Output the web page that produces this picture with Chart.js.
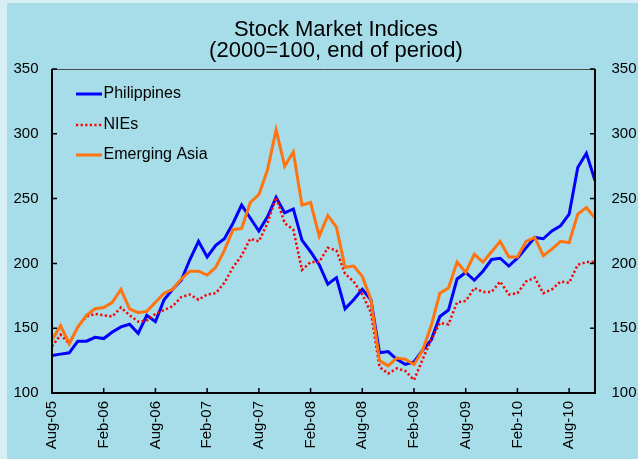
<!DOCTYPE html>
<html>
<head>
<meta charset="utf-8">
<script src="https://cdn.jsdelivr.net/npm/chart.js@4.4.1/dist/chart.umd.min.js"></script>
<style>
  html, body { margin: 0; padding: 0; background: #D6EEF4; }
  canvas { display: block; }
</style>
</head>
<body>
<canvas id="c" width="638" height="459"></canvas>
<script>
const titleLines = ['Stock Market Indices', '(2000=100, end of period)'];

const categories = [
  'Aug-05','Sep-05','Oct-05','Nov-05','Dec-05',
  'Jan-06','Feb-06','Mar-06','Apr-06','May-06','Jun-06','Jul-06','Aug-06','Sep-06','Oct-06','Nov-06','Dec-06',
  'Jan-07','Feb-07','Mar-07','Apr-07','May-07','Jun-07','Jul-07','Aug-07','Sep-07','Oct-07','Nov-07','Dec-07',
  'Jan-08','Feb-08','Mar-08','Apr-08','May-08','Jun-08','Jul-08','Aug-08','Sep-08','Oct-08','Nov-08','Dec-08',
  'Jan-09','Feb-09','Mar-09','Apr-09','May-09','Jun-09','Jul-09','Aug-09','Sep-09','Oct-09','Nov-09','Dec-09',
  'Jan-10','Feb-10','Mar-10','Apr-10','May-10','Jun-10','Jul-10','Aug-10','Sep-10','Oct-10','Nov-10'
];

const philippines = [
  129,130,131,140,140,
  143,142,147,151,153,146,160,155,172,180,187,203,
  217,205,214,219,231,245,235,225,236,251,239,242,
  218,209,199,184,189,165,172,180,172,131,132,126,
  122,124,133,141,159,164,188,193,187,194,203,204,
  198,204,212,220,219,225,229,238,274,285,264
];

const nies = [
  136,145,138,151,159,
  161,160,159,166,160,155,156,161,164,167,174,176,
  172,176,177,185,197,206,219,217,231,251,231,226,
  195,201,201,212,210,192,186,176,162,120,115,119,
  117,110,126,141,154,153,170,171,181,178,178,186,
  176,177,186,189,177,180,186,185,199,201,201
];

const emergingAsia = [
  141,152,138,151,160,
  165,166,170,180,165,162,163,170,177,180,188,194,
  194,191,197,210,226,227,247,253,272,303,275,286,
  245,247,221,237,228,197,198,190,172,125,121,127,
  126,122,133,152,177,181,201,193,207,201,209,217,
  205,205,217,220,206,211,217,216,238,243,235
];

const yTicks = [100, 150, 200, 250, 300, 350];
const seriesNames = ['Philippines', 'NIEs', 'Emerging Asia'];

const FONT = "'Liberation Sans', Arial, sans-serif";
const BG = '#A7DDE8';
const EDGE = '#D6EEF4';

const bgPlugin = {
  id: 'bg',
  beforeDraw(chart) {
    const c = chart.ctx;
    c.save();
    c.fillStyle = EDGE;
    c.fillRect(0, 0, chart.width, chart.height);
    c.fillStyle = BG;
    c.fillRect(7, 3, chart.width - 7, chart.height - 3);
    c.restore();
  }
};

const titlePlugin = {
  id: 'customTitle',
  afterDraw(chart) {
    const c = chart.ctx;
    c.save();
    c.fillStyle = '#000';
    c.font = '22px ' + FONT;
    c.textAlign = 'center';
    c.textBaseline = 'alphabetic';
    c.fillText(titleLines[0], 336, 36);
    c.fillText(titleLines[1], 336, 57);
    c.restore();
  }
};

const framePlugin = {
  id: 'frame',
  afterDraw(chart) {
    const c = chart.ctx;
    const a = chart.chartArea;
    const xs = chart.scales.x, ys = chart.scales.y, ys2 = chart.scales.y2;
    c.save();
    c.strokeStyle = '#4a4a4a';
    c.lineWidth = 1;
    c.beginPath();
    c.moveTo(a.left, a.top + 0.5);
    c.lineTo(a.right, a.top + 0.5);
    c.stroke();
    c.strokeStyle = '#000';
    c.lineWidth = 2;
    c.beginPath();
    c.moveTo(a.left, a.top);
    c.lineTo(a.left, a.bottom);
    c.lineTo(a.right, a.bottom);
    c.lineTo(a.right, a.top);
    c.stroke();
    c.lineWidth = 1.5;
    c.beginPath();
    xs.ticks.forEach((t, i) => {
      const px = xs.getPixelForTick(i);
      c.moveTo(px, a.bottom);
      c.lineTo(px, a.bottom - 5);
    });
    ys.ticks.forEach((t, i) => {
      const py = ys.getPixelForTick(i);
      c.moveTo(a.left, py);
      c.lineTo(a.left + 5, py);
    });
    ys2.ticks.forEach((t, i) => {
      const py = ys2.getPixelForTick(i);
      c.moveTo(a.right, py);
      c.lineTo(a.right - 5, py);
    });
    c.stroke();

    const rows = [94, 125, 155];
    chart.data.datasets.forEach((ds, i) => {
      const y = rows[i];
      c.save();
      c.strokeStyle = ds.borderColor;
      c.lineWidth = ds.borderWidth;
      c.setLineDash(ds.borderDash || []);
      c.beginPath();
      c.moveTo(76, y);
      c.lineTo(102, y);
      c.stroke();
      c.restore();
      c.fillStyle = '#000';
      c.font = '16px ' + FONT;
      c.textAlign = 'left';
      c.textBaseline = 'middle';
      c.fillText(ds.label, 103.5, y);
    });
    c.restore();
  }
};

const tickFont = { family: FONT, size: 15, weight: 'normal' };

new Chart(document.getElementById('c'), {
  type: 'line',
  data: {
    labels: categories,
    datasets: [
      { label: seriesNames[0], data: philippines, borderColor: '#0000FF', borderWidth: 3, pointRadius: 0, tension: 0, fill: false, order: 3, yAxisID: 'y' },
      { label: seriesNames[1], data: nies, borderColor: '#FF0000', borderWidth: 2.5, borderDash: [2.2, 2.4], borderCapStyle: 'butt', pointRadius: 0, tension: 0, fill: false, order: 2, yAxisID: 'y' },
      { label: seriesNames[2], data: emergingAsia, borderColor: '#FF7410', borderWidth: 3, pointRadius: 0, tension: 0, fill: false, order: 1, yAxisID: 'y' }
    ]
  },
  options: {
    responsive: false,
    animation: false,
    devicePixelRatio: 1,
    events: [],
    layout: { padding: { left: 0, right: 0, top: 69, bottom: 0 } },
    plugins: {
      legend: { display: false },
      tooltip: { enabled: false },
      title: { display: false }
    },
    scales: {
      x: {
        type: 'category',
        offset: false,
        grid: { display: false, drawTicks: false },
        border: { display: false },
        ticks: { autoSkip: false, maxRotation: 90, minRotation: 90, padding: 8, color: '#000', font: tickFont },
        afterBuildTicks: s => { s.ticks = s.ticks.filter(t => t.value % 6 === 0); },
        afterFit: s => { s.height = 66; }
      },
      y: {
        position: 'left',
        min: 100, max: 350,
        afterBuildTicks: s => { s.ticks = yTicks.map(v => ({ value: v })); },
        grid: { display: false, drawTicks: false },
        border: { display: false },
        ticks: { padding: 13.5, color: '#000', font: tickFont },
        afterFit: s => { s.width = 52; }
      },
      y2: {
        position: 'right',
        display: true,
        min: 100, max: 350,
        afterBuildTicks: s => { s.ticks = yTicks.map(v => ({ value: v })); },
        grid: { display: false, drawTicks: false },
        border: { display: false },
        ticks: { padding: 16.5, color: '#000', font: tickFont },
        afterFit: s => { s.width = 43; }
      }
    }
  },
  plugins: [bgPlugin, titlePlugin, framePlugin]
});
</script>
</body>
</html>
